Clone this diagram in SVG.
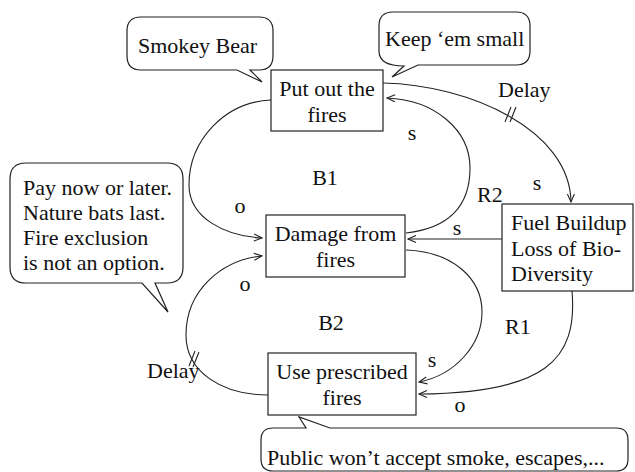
<svg xmlns="http://www.w3.org/2000/svg" width="635" height="472" viewBox="0 0 635 472">
<defs>
<marker id="arr" markerUnits="userSpaceOnUse" markerWidth="12" markerHeight="10" viewBox="-10 -5 12 10" refX="0" refY="0" orient="auto">
<path d="M-8,-3.5 L0,0 L-8,3.5" fill="none" stroke="#222" stroke-width="1.1"/>
</marker>
</defs>
<style>
text{font-family:"Liberation Serif","Times New Roman",serif;font-size:22px;fill:#111}
.c{text-anchor:middle}
.box{fill:#fff;stroke:#222;stroke-width:1.2}
.call{fill:#fff;stroke:#222;stroke-width:1.2}
.link{fill:none;stroke:#222;stroke-width:1.1}
.hash{stroke:#222;stroke-width:1.1}
</style>
<rect width="635" height="472" fill="#fff"/>

<g id="connectors">
<path class="link" d="M271,100 C225,102 189,140 189,185 C189,218 225,236 262,238" marker-end="url(#arr)"/>
<path class="link" d="M406,233 C450,228 470,205 470,168 C470,130 435,100 387,98" marker-end="url(#arr)"/>
<path class="link" d="M383,83 C470,85 570,130 571,202" marker-end="url(#arr)"/>
<path class="link" d="M502,239 H408" marker-end="url(#arr)"/>
<path class="link" d="M406,250 C455,252 482,280 482,312 C482,345 455,375 419,382" marker-end="url(#arr)"/>
<path class="link" d="M572,291 C578,360 545,393 419,394" marker-end="url(#arr)"/>
<path class="link" d="M268,395 C222,395 186,372 186,335 C186,290 222,260 262,256" marker-end="url(#arr)"/>
<line class="hash" x1="505" y1="122" x2="511" y2="107"/>
<line class="hash" x1="510" y1="122" x2="516" y2="107"/>
<line class="hash" x1="189" y1="366" x2="195" y2="351"/>
<line class="hash" x1="193" y1="367" x2="199" y2="352"/>
<text x="498" y="97">Delay</text>
<text x="147" y="378">Delay</text>
<text class="c" x="412" y="140">s</text>
<text class="c" x="537" y="190">s</text>
<text x="477" y="202">R2</text>
<text class="c" x="325" y="185">B1</text>
<text class="c" x="240" y="213">o</text>
<text class="c" x="457" y="235">s</text>
<text class="c" x="245" y="291">o</text>
<text class="c" x="331" y="330">B2</text>
<text x="505" y="334">R1</text>
<text class="c" x="432" y="367">s</text>
<text class="c" x="460" y="412">o</text>
</g>

<g id="put-out">
<rect class="box" x="271" y="70" width="112" height="61"/>
<text class="c" x="327" y="96">Put out the</text>
<text class="c" x="327" y="122">fires</text>
</g>

<g id="damage">
<rect class="box" x="266" y="215" width="139" height="62"/>
<text class="c" x="335.5" y="241">Damage from</text>
<text class="c" x="335.5" y="267">fires</text>
</g>

<g id="fuel">
<rect class="box" x="502" y="204" width="131" height="87"/>
<text x="511" y="230">Fuel Buildup</text>
<text x="511" y="256">Loss of Bio-</text>
<text x="511" y="281">Diversity</text>
</g>

<g id="prescribed">
<rect class="box" x="268" y="353" width="148" height="62"/>
<text class="c" x="342" y="379">Use prescribed</text>
<text class="c" x="342" y="405">fires</text>
</g>

<g id="smokey">
<path class="call" d="M141,17 H259 Q273,17 273,31 V56 Q273,70 259,70 H250 L262,82 L237,70 H141 Q127,70 127,56 V31 Q127,17 141,17 Z"/>
<text x="138" y="53">Smokey Bear</text>
</g>

<g id="keep-small">
<path class="call" d="M393,12 H516 Q530,12 530,26 V51 Q530,65 516,65 H418 L392,77 L404,66 Q379,66 379,51 V26 Q379,12 393,12 Z"/>
<text x="385" y="46">Keep ‘em small</text>
</g>

<g id="pay-now">
<path class="call" d="M26,163 H167 Q183,163 183,179 V267 Q183,283 167,283 H155 L168,312 L142,283 H26 Q10,283 10,267 V179 Q10,163 26,163 Z"/>
<text x="23" y="195">Pay now or later.</text>
<text x="23" y="220">Nature bats last.</text>
<text x="23" y="245">Fire exclusion</text>
<text x="23" y="270">is not an option.</text>
</g>

<g id="public">
<path class="call" d="M273,428 H306 L299,417 L330,428 H616 Q628,428 628,440 V459 Q628,471 616,471 H273 Q261,471 261,459 V440 Q261,428 273,428 Z"/>
<text x="267" y="465">Public won’t accept smoke, escapes,...</text>
</g>
</svg>
